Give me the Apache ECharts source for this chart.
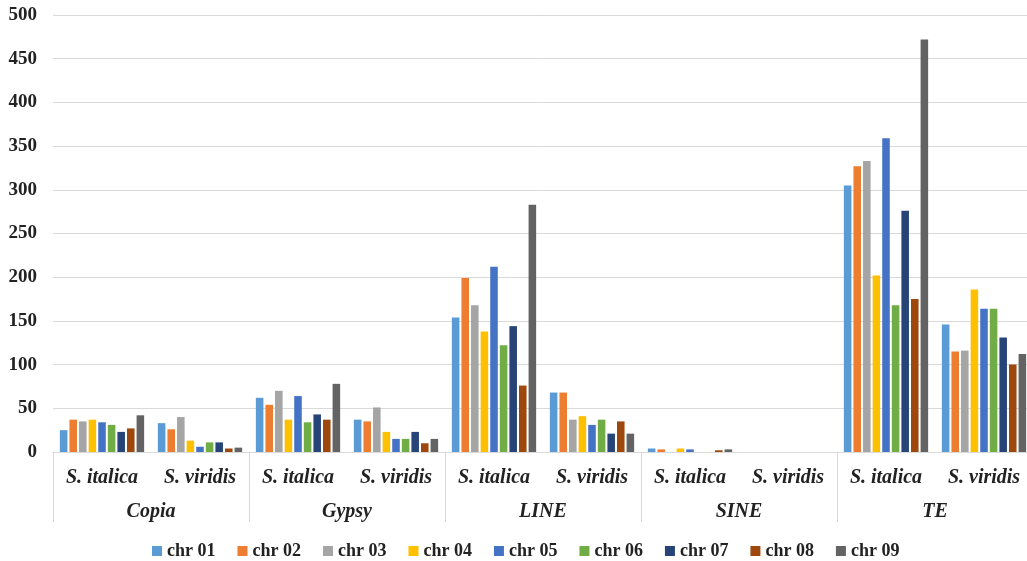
<!DOCTYPE html>
<html>
<head>
<meta charset="utf-8">
<script src="https://cdn.jsdelivr.net/npm/echarts@6/dist/echarts.min.js"></script>
<style>html,body{margin:0;padding:0;background:#fff}#c{width:1027px;height:561px}</style>
</head>
<body>
<div id="c"></div>
<script>
const groups = ['Copia', 'Gypsy', 'LINE', 'SINE', 'TE'];
const species = ['S. italica', 'S. viridis'];
const seriesNames = ['chr 01','chr 02','chr 03','chr 04','chr 05','chr 06','chr 07','chr 08','chr 09'];
const yTicks = [0, 50, 100, 150, 200, 250, 300, 350, 400, 450, 500];
// order: Copia-It, Copia-Vi, Gypsy-It, Gypsy-Vi, LINE-It, LINE-Vi, SINE-It, SINE-Vi, TE-It, TE-Vi
const chr01 = [25, 33, 62, 37, 154, 68, 4, 0, 305, 146];
const chr02 = [37, 26, 54, 35, 199, 68, 3, 0, 327, 115];
const chr03 = [35, 40, 70, 51, 168, 37, 0, 0, 333, 116];
const chr04 = [37, 13, 37, 23, 138, 41, 4, 0, 202, 186];
const chr05 = [34, 6, 64, 15, 212, 31, 3, 0, 359, 164];
const chr06 = [31, 11, 34, 15, 122, 37, 0, 0, 168, 164];
const chr07 = [23, 11, 43, 23, 144, 21, 0, 0, 276, 131];
const chr08 = [27, 4, 37, 10, 76, 35, 2, 0, 175, 100];
const chr09 = [42, 5, 78, 15, 283, 21, 3, 0, 472, 112];

const allData = [chr01, chr02, chr03, chr04, chr05, chr06, chr07, chr08, chr09];
const colors = ['#5B9BD5','#ED7D31','#A5A5A5','#FFC000','#4472C4','#70AD47','#264478','#9E480E','#636363'];
const cats = [];
groups.forEach(g => species.forEach(s => cats.push(s)));

const font = '"Liberation Serif", "Times New Roman", serif';
const chart = echarts.init(document.getElementById('c'));
chart.setOption({
  animation: false,
  color: colors,
  grid: { left: 53, width: 980, top: 15, height: 437, outerBoundsMode: 'none', containLabel: false },
  legend: {
    top: 537, left: 147, itemWidth: 10, itemHeight: 10, itemGap: 22,
    icon: 'rect',
    textStyle: { fontFamily: font, fontWeight: 'bold', fontSize: 18, color: '#222' },
    data: seriesNames
  },
  xAxis: [
    {
      type: 'category', data: cats, position: 'bottom',
      axisLine: { lineStyle: { color: '#d9d9d9' } },
      axisTick: { show: false },
      axisLabel: { interval: 0, margin: 16, fontFamily: font, fontStyle: 'italic', fontWeight: 'bold', fontSize: 20, color: '#222' }
    },
    {
      type: 'category', data: groups, position: 'bottom', offset: 0,
      axisLine: { show: false },
      axisTick: { show: true, length: 70, interval: 0, lineStyle: { color: '#d9d9d9' } },
      axisLabel: { interval: 0, margin: 50, fontFamily: font, fontStyle: 'italic', fontWeight: 'bold', fontSize: 20, color: '#222' }
    }
  ],
  yAxis: {
    type: 'value', min: yTicks[0], max: yTicks[yTicks.length - 1], interval: yTicks[1] - yTicks[0],
    axisLine: { show: false }, axisTick: { show: false },
    splitLine: { lineStyle: { color: '#d9d9d9' } },
    axisLabel: { margin: 16, fontFamily: font, fontWeight: 'bold', fontSize: 19, color: '#222' }
  },
  series: seriesNames.map((n, i) => ({
    name: n, type: 'bar', xAxisIndex: 0, data: allData[i],
    barCategoryGap: '14%', barGap: '27%'
  }))
});
</script>
</body>
</html>
